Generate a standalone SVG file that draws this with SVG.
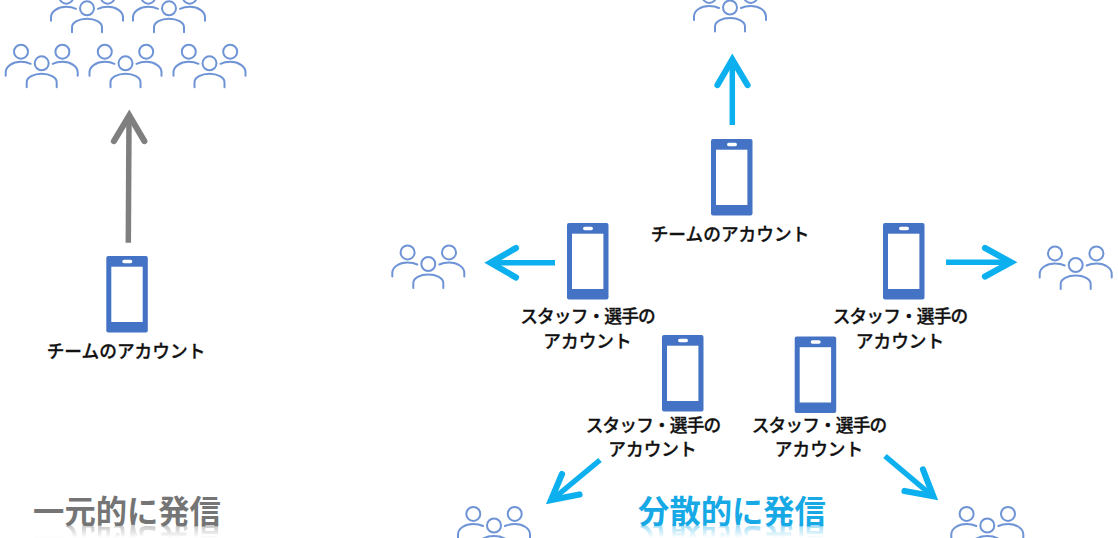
<svg xmlns="http://www.w3.org/2000/svg" xmlns:xlink="http://www.w3.org/1999/xlink" width="1118" height="538" viewBox="0 0 1118 538">
<style>
text{font-family:"Noto Sans CJK JP","Liberation Sans",sans-serif}
.lb{font-size:17.7px;font-weight:500;fill:#111;stroke:#111;stroke-width:.3px;text-anchor:middle}
.st{letter-spacing:-.85px}
.tt{font-size:31.300px;font-weight:700;text-anchor:middle}
.pp{fill:none;stroke:#6f94d6;stroke-width:2;stroke-linecap:round}
.ar{fill:none;stroke-width:6.200;stroke-linecap:round;stroke-linejoin:miter;stroke-miterlimit:8}
.sh{fill:none;stroke-width:5.500;stroke-linecap:butt}
.bl{stroke:#0db0ee}
.gr{stroke:#7f7f7f}
</style>
<defs>
<symbol id="people" overflow="visible" viewBox="-40 -25 80 50" width="80" height="50" x="-40" y="-25">
<circle class="pp" cx="0" cy="0" r="7"/>
<circle class="pp" cx="-20.7" cy="-11.6" r="7"/>
<circle class="pp" cx="20.7" cy="-11.6" r="7"/>
<path class="pp" d="M-36 12.500V9C-36 3-29-1.500-21-1.500C-17-1.500-14-1-11 .5"/>
<path class="pp" d="M36 12.500V9C36 3 29-1.500 21-1.500C17-1.500 14-1 11 .5"/>
<path class="pp" d="M-15 24V19C-15 14-8 10.500 0 10.500C8 10.500 15 14 15 19V24"/>
</symbol>
<g id="phone">
<rect x="0" y="0" width="41.500" height="76.500" rx="2" fill="#4472c4"/>
<rect x="5" y="10.700" width="31.400" height="55.300" fill="#fff"/>
<rect x="16" y="3.700" width="10" height="3.500" rx="1.700" fill="#fff"/>
</g>
<linearGradient id="fade" x1="0" y1="0" x2="0" y2="1"><stop offset="0" stop-color="#fff" stop-opacity=".45"/><stop offset="1" stop-color="#fff" stop-opacity="0"/></linearGradient>
<mask id="m1" maskUnits="userSpaceOnUse" x="0" y="524" width="1118" height="14"><rect x="0" y="524" width="1118" height="14" fill="url(#fade)"/></mask>
</defs>
<g id="connectors">
<path class="sh gr" d="M128.300 242.700L129 118"/><path class="ar gr" d="M114 141L129.300 115.500L144.300 141"/>
<path class="sh bl" d="M732.300 125V62"/><path class="ar bl" d="M717.500 85L732.300 59.500L747.500 85"/>
<path class="sh bl" d="M555 262.700H493"/><path class="ar bl" d="M516 248L490.500 262.700L516 277.500"/>
<path class="sh bl" d="M946 262.300H1008"/><path class="ar bl" d="M985 248L1011 262.300L985 276.500"/>
<path class="sh bl" d="M600 460L553 499"/><path class="ar bl" d="M562 474L551 500L579.500 494.500"/>
<path class="sh bl" d="M885 456L930 494"/><path class="ar bl" d="M923 469.500L933.300 496.300L904.500 491"/>
</g>
<g id="audience-left">
<use xlink:href="#people" href="#people" x="87" y="8.300"/>
<use xlink:href="#people" href="#people" x="169" y="8.300"/>
<use xlink:href="#people" href="#people" x="41.700" y="63.300"/>
<use xlink:href="#people" href="#people" x="125.500" y="63.300"/>
<use xlink:href="#people" href="#people" x="209.500" y="63.300"/>
</g>
<g id="audience-top"><use xlink:href="#people" href="#people" x="730" y="7.500"/></g>
<g id="audience-west"><use xlink:href="#people" href="#people" x="428.300" y="264"/></g>
<g id="audience-east"><use xlink:href="#people" href="#people" x="1075.700" y="265"/></g>
<g id="audience-sw"><use xlink:href="#people" href="#people" x="494" y="525.500"/></g>
<g id="audience-se"><use xlink:href="#people" href="#people" x="987.300" y="525.500"/></g>
<g id="phone-main"><use href="#phone" x="106.300" y="256"/><text class="lb" x="126" y="358">チームのアカウント</text></g>
<g id="phone-team"><use href="#phone" x="711" y="139"/><text class="lb" x="730" y="241">チームのアカウント</text></g>
<g id="phone-w"><use href="#phone" x="567" y="223"/><text class="lb st" x="587.500" y="323">スタッフ・選手の</text><text class="lb" x="587.500" y="348">アカウント</text></g>
<g id="phone-e"><use href="#phone" x="883" y="223"/><text class="lb st" x="900" y="323">スタッフ・選手の</text><text class="lb" x="900" y="348">アカウント</text></g>
<g id="phone-sw"><use href="#phone" x="662" y="335"/><text class="lb st" x="653" y="432">スタッフ・選手の</text><text class="lb" x="652.500" y="456">アカウント</text></g>
<g id="phone-se"><use href="#phone" x="794.700" y="336.500"/><text class="lb st" x="819" y="432">スタッフ・選手の</text><text class="lb" x="819" y="456">アカウント</text></g>
<g id="title-left">
<text id="t1" class="tt" x="127" y="523" fill="#757575">一元的に発信</text>
<g mask="url(#m1)"><use href="#t1" transform="matrix(1 0 0 -1 0 1050)"/></g>
</g>
<g id="title-right">
<text id="t2" class="tt" x="732" y="523" fill="#16a9e6">分散的に発信</text>
<g mask="url(#m1)"><use href="#t2" transform="matrix(1 0 0 -1 0 1050)"/></g>
</g>
</svg>
